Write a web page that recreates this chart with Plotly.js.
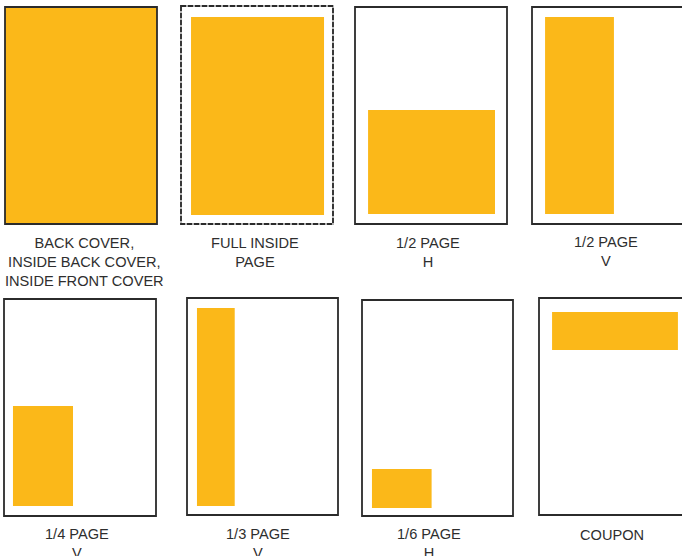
<!DOCTYPE html>
<html>
<head>
<meta charset="utf-8">
<script src="https://cdn.plot.ly/plotly-3.0.1.min.js"></script>
<style>html,body{margin:0;padding:0;background:#fff;}#chart{width:682px;height:556px;}</style>
</head>
<body>
<div id="chart"></div>
<script>
// ---- data: ad sizes as fractions of the page (left, right, top, bottom) ----
const labels = [
  'BACK COVER,<br>INSIDE BACK COVER,<br>INSIDE FRONT COVER',
  'FULL INSIDE<br>PAGE',
  '1/2 PAGE<br>H',
  '1/2 PAGE<br>V',
  '1/4 PAGE<br>V',
  '1/3 PAGE<br>V',
  '1/6 PAGE<br>H',
  'COUPON'
];
const adLeft   = [0.000, 0.066, 0.086, 0.086, 0.059, 0.066, 0.066, 0.086];
const adRight  = [1.000, 0.941, 0.921, 0.539, 0.454, 0.316, 0.461, 0.914];
const adTop    = [0.000, 0.050, 0.475, 0.046, 0.493, 0.046, 0.782, 0.065];
const adBottom = [1.000, 0.959, 0.954, 0.954, 0.954, 0.959, 0.963, 0.240];
const dashedPage = [false, true, false, false, false, false, false, false];

// ---- layout: page boxes and label positions (px units of the axes) ----
const pageX0 = [5, 181, 355, 532, 4, 187, 362, 539];
const pageY0 = [7, 6, 7, 7, 299, 298, 300, 298];
const pageW  = [152, 152, 152, 152, 152, 151, 151, 152];
const pageH  = [217, 218, 217, 217, 217, 217, 216, 217];
const labelX = [84, 255, 428, 606, 77, 258, 429, 612];
const labelY = [233, 233, 233, 232, 524, 524, 524, 525];

const YELLOW = '#FBB819';
const DARK = '#2b2b2b';

const shapes = [];
// ad areas
for (let i = 0; i < labels.length; i++) {
  shapes.push({
    type: 'rect', xref: 'x', yref: 'y', layer: 'above',
    x0: pageX0[i] + adLeft[i] * pageW[i],
    x1: pageX0[i] + adRight[i] * pageW[i],
    y0: pageY0[i] + adTop[i] * pageH[i],
    y1: pageY0[i] + adBottom[i] * pageH[i],
    fillcolor: YELLOW, line: {width: 0}
  });
}
// page outlines
for (let i = 0; i < labels.length; i++) {
  const base = {type: 'rect', xref: 'x', yref: 'y', layer: 'above',
    x0: pageX0[i], x1: pageX0[i] + pageW[i], y0: pageY0[i], y1: pageY0[i] + pageH[i],
    fillcolor: 'rgba(0,0,0,0)'};
  if (dashedPage[i]) {
    shapes.push(Object.assign({}, base, {line: {color: '#b0b0b0', width: 1.8}}));
    shapes.push(Object.assign({}, base, {line: {color: DARK, width: 1.8, dash: '5px,2px'}}));
  } else {
    shapes.push(Object.assign({}, base, {line: {color: DARK, width: 1.8}}));
  }
}

const annotations = labels.map((t, i) => ({
  xref: 'x', yref: 'y', x: labelX[i], y: labelY[i],
  xanchor: 'center', yanchor: 'top', showarrow: false, align: 'center',
  text: t, font: {family: 'Liberation Sans, Arial, sans-serif', size: 14.6, color: '#2e2e2e'}
}));

const layout = {
  width: 682, height: 556,
  margin: {l: 0, r: 0, t: 0, b: 0},
  paper_bgcolor: '#ffffff', plot_bgcolor: '#ffffff',
  xaxis: {range: [0, 682], visible: false, fixedrange: true},
  yaxis: {range: [556, 0], visible: false, fixedrange: true},
  shapes: shapes, annotations: annotations, showlegend: false
};

Plotly.newPlot('chart', [{x: [], y: [], type: 'scatter', mode: 'markers', hoverinfo: 'skip'}], layout, {staticPlot: true, displayModeBar: false});
</script>
</body>
</html>
